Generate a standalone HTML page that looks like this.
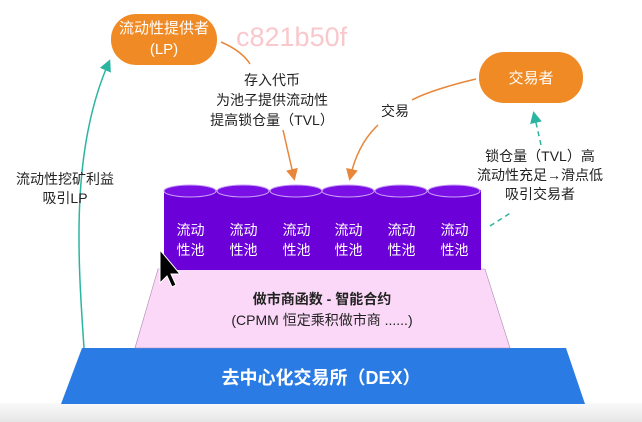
<!DOCTYPE html>
<html><head><meta charset="utf-8"><style>
body{margin:0;width:642px;height:422px;background:#fff;overflow:hidden;font-family:"Liberation Sans","Noto Sans CJK SC",sans-serif;}
.t{position:absolute;text-align:center;white-space:nowrap;color:#222;}
</style></head><body>
<svg width="642" height="422" style="position:absolute;left:0;top:0">
<defs>
<marker id="ao" markerWidth="8" markerHeight="8" refX="6" refY="4" orient="auto"><path d="M0,0 L8,4 L0,8 z" fill="#e8863a"/></marker>
<marker id="at" markerWidth="8" markerHeight="8" refX="6" refY="4" orient="auto"><path d="M0,0 L8,4 L0,8 z" fill="#2bb5a0"/></marker>
<linearGradient id="g" x1="0" y1="0" x2="0" y2="1"><stop offset="0" stop-color="#fafafa"/><stop offset="1" stop-color="#e6e6e6"/></linearGradient>
</defs>
<rect x="0" y="403" width="642" height="19" fill="url(#g)"/>
<polygon points="82,348 566,348 585,404 61,404" fill="#2a7be4"/>
<polygon points="158,269 485,269 510,348 135,348" fill="#fbd8f7" stroke="#ad8ab0" stroke-width="0.6"/>
<rect x="164" y="190" width="317" height="80" fill="#6c00d9"/>
<g fill="#7a10e6" stroke="#c9a0f5" stroke-width="1">
<ellipse cx="190" cy="191" rx="26" ry="6"/><ellipse cx="243" cy="191" rx="26" ry="6"/><ellipse cx="296" cy="191" rx="26" ry="6"/><ellipse cx="348" cy="191" rx="26" ry="6"/><ellipse cx="401" cy="191" rx="26" ry="6"/><ellipse cx="454" cy="191" rx="26" ry="6"/>
</g>
<path d="M84,348 C78,260 70,150 109,62" fill="none" stroke="#2bb5a0" stroke-width="1.5" marker-end="url(#at)"/>
<path d="M221,42 C235,48 245,56 250,64" fill="none" stroke="#e8863a" stroke-width="1.5"/>
<path d="M283,130 L294,178" fill="none" stroke="#e8863a" stroke-width="1.5" marker-end="url(#ao)"/>
<path d="M476,79 C450,85 425,93 412,100" fill="none" stroke="#e8863a" stroke-width="1.5"/>
<path d="M378,125 C362,140 354,160 350,178" fill="none" stroke="#e8863a" stroke-width="1.5" marker-end="url(#ao)"/>
<path d="M490,226 L512,212" fill="none" stroke="#2bb5a0" stroke-width="1.5" stroke-dasharray="5,4"/>
<path d="M541,145 L534,114" fill="none" stroke="#2bb5a0" stroke-width="1.5" stroke-dasharray="5,4" marker-end="url(#at)"/>
<rect x="111" y="14" width="106" height="51" rx="25" fill="#f08a24"/>
<rect x="479" y="52" width="104" height="51" rx="25" fill="#f08a24"/>
<path d="M160,250 L160,283 L167,276 L172,287 L176,285 L171,274 L180,274 Z" fill="#000" stroke="#fff" stroke-width="1"/>
</svg>
<div class="t" style="left:111px;top:18px;width:106px;color:#fff;font-size:15px;line-height:21px">流动性提供者<br>(LP)</div>
<div class="t" style="left:479px;top:67px;width:104px;color:#fff;font-size:15px">交易者</div>
<div class="t" style="left:236px;top:22px;font-size:27px;color:#f8c8cc">c821b50f</div>
<div class="t" style="left:192px;top:70px;width:160px;font-size:14px;line-height:20px">存入代币<br>为池子提供流动性<br>提高锁仓量（TVL）</div>
<div class="t" style="left:375px;top:101px;width:40px;font-size:14px">交易</div>
<div class="t" style="left:0px;top:170px;width:130px;font-size:14px;line-height:19px">流动性挖矿利益<br>吸引LP</div>
<div class="t" style="left:465px;top:147px;width:150px;font-size:14px;line-height:19px">锁仓量（TVL）高<br>流动性充足→滑点低<br>吸引交易者</div>
<div class="t" style="left:164px;top:220px;width:53px;color:#fff;font-size:14px;line-height:20px">流动<br>性池</div>
<div class="t" style="left:217px;top:220px;width:53px;color:#fff;font-size:14px;line-height:20px">流动<br>性池</div>
<div class="t" style="left:270px;top:220px;width:53px;color:#fff;font-size:14px;line-height:20px">流动<br>性池</div>
<div class="t" style="left:322px;top:220px;width:53px;color:#fff;font-size:14px;line-height:20px">流动<br>性池</div>
<div class="t" style="left:375px;top:220px;width:53px;color:#fff;font-size:14px;line-height:20px">流动<br>性池</div>
<div class="t" style="left:428px;top:220px;width:53px;color:#fff;font-size:14px;line-height:20px">流动<br>性池</div>
<div class="t" style="left:212px;top:289px;width:220px;font-size:14px;font-weight:bold;line-height:21px">做市商函数 - 智能合约<br><span style="font-weight:normal">(CPMM 恒定乘积做市商 ......)</span></div>
<div class="t" style="left:190px;top:364px;width:262px;color:#fff;font-size:18px;font-weight:bold">去中心化交易所（DEX）</div>
</body></html>
